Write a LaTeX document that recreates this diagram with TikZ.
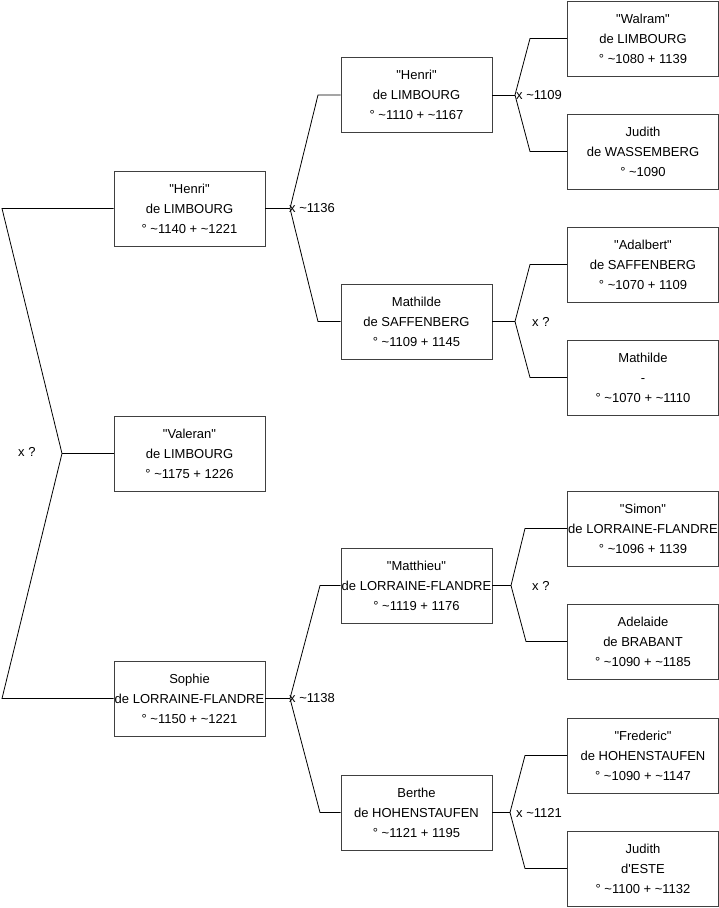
\documentclass[tikz,border=0pt]{standalone}
\usepackage{fontspec}
\setmainfont{Liberation Sans}
\newcommand{\pline}[3]{\makebox[0pt]{#1}\\\makebox[0pt]{#2}\\\makebox[0pt]{#3}}
\newcommand{\qq}[1]{\textquotedbl #1\textquotedbl}
\begin{document}
\begin{tikzpicture}[x=1pt,y=-1pt,
  person/.style={draw=black!75, line width=0.8pt, rectangle, minimum width=151pt, minimum height=75pt,
    inner sep=0pt, align=center, font=\fontsize{13}{20}\selectfont},
  conn/.style={draw=black, line width=0.8pt},
  mlabel/.style={anchor=west, inner sep=0pt, font=\fontsize{13}{15}\selectfont}]
\useasboundingbox (0,0) rectangle (719,908);
% level 1
\node[person] (h1) at (189.5,208.5) {\pline{\qq{Henri}}{de LIMBOURG}{° \textasciitilde 1140 + \textasciitilde 1221}};
\node[person] (v1) at (189.5,453.5) {\pline{\qq{Valeran}}{de LIMBOURG}{° \textasciitilde 1175 + 1226}};
\node[person] (s1) at (189.5,698.5) {\pline{Sophie}{de LORRAINE-FLANDRE}{° \textasciitilde 1150 + \textasciitilde 1221}};
% level 2
\node[person] (h2) at (416.5,95) {\pline{\qq{Henri}}{de LIMBOURG}{° \textasciitilde 1110 + \textasciitilde 1167}};
\node[person] (m2) at (416.5,321.5) {\pline{Mathilde}{de SAFFENBERG}{° \textasciitilde 1109 + 1145}};
\node[person] (t2) at (416.5,585.5) {\pline{\qq{Matthieu}}{de LORRAINE-FLANDRE}{° \textasciitilde 1119 + 1176}};
\node[person] (b2) at (416.5,812.5) {\pline{Berthe}{de HOHENSTAUFEN}{° \textasciitilde 1121 + 1195}};
% level 3
\node[person] (w3) at (643,38.5) {\pline{\qq{Walram}}{de LIMBOURG}{° \textasciitilde 1080 + 1139}};
\node[person] (j3) at (643,151.5) {\pline{Judith}{de WASSEMBERG}{° \textasciitilde 1090}};
\node[person] (a3) at (643,264.5) {\pline{\qq{Adalbert}}{de SAFFENBERG}{° \textasciitilde 1070 + 1109}};
\node[person] (n3) at (643,377.5) {\pline{Mathilde}{-}{° \textasciitilde 1070 + \textasciitilde 1110}};
\node[person] (si3) at (643,528.5) {\pline{\qq{Simon}}{de LORRAINE-FLANDRE}{° \textasciitilde 1096 + 1139}};
\node[person] (ad3) at (643,641.5) {\pline{Adelaide}{de BRABANT}{° \textasciitilde 1090 + \textasciitilde 1185}};
\node[person] (f3) at (643,755.5) {\pline{\qq{Frederic}}{de HOHENSTAUFEN}{° \textasciitilde 1090 + \textasciitilde 1147}};
\node[person] (e3) at (643,868.5) {\pline{Judith}{d\textquotesingle ESTE}{° \textasciitilde 1100 + \textasciitilde 1132}};
% junction coordinates
\coordinate (r) at (62,453.5);
\coordinate (rt) at (2,208.5);
\coordinate (rb) at (2,698.5);
\coordinate (j1) at (290,208.5);
\coordinate (j1t) at (318,95);
\coordinate (j1b) at (318,321.5);
\coordinate (j2) at (290,698.5);
\coordinate (j2t) at (320,585.5);
\coordinate (j2b) at (320,812.5);
\coordinate (k1) at (515,95);
\coordinate (k1t) at (530,38.5);
\coordinate (k1b) at (530,151.5);
\coordinate (k2) at (515,321.5);
\coordinate (k2t) at (530,264.5);
\coordinate (k2b) at (530,377.5);
\coordinate (k3) at (511,585.5);
\coordinate (k3t) at (525,528.5);
\coordinate (k3b) at (526,641.5);
\coordinate (k4) at (510,812.5);
\coordinate (k4t) at (525,755.5);
\coordinate (k4b) at (525,868.5);
% connectors
\draw[conn] (h1.west) -- (rt) -- (r) -- (rb) -- (s1.west);
\draw[conn] (r) -- (v1.west);
\draw[conn] (h1.east) -- (j1);
\draw[conn] (j1) -- (j1t) -- (h2.west);
\draw[conn] (j1) -- (j1b) -- (m2.west);
\draw[conn] (s1.east) -- (j2);
\draw[conn] (j2) -- (j2t) -- (t2.west);
\draw[conn] (j2) -- (j2b) -- (b2.west);
\draw[conn] (h2.east) -- (k1);
\draw[conn] (k1) -- (k1t) -- (w3.west);
\draw[conn] (k1) -- (k1b) -- (j3.west);
\draw[conn] (m2.east) -- (k2);
\draw[conn] (k2) -- (k2t) -- (a3.west);
\draw[conn] (k2) -- (k2b) -- (n3.west);
\draw[conn] (t2.east) -- (k3);
\draw[conn] (k3) -- (k3t) -- (si3.west);
\draw[conn] (k3) -- (k3b) -- (ad3.west);
\draw[conn] (b2.east) -- (k4);
\draw[conn] (k4) -- (k4t) -- (f3.west);
\draw[conn] (k4) -- (k4b) -- (e3.west);
% marriage labels
\node[mlabel] (l0) at (18,452) {x ?};
\node[mlabel] (l1) at (289,208.5) {x \textasciitilde 1136};
\node[mlabel] (l2) at (289,698.5) {x \textasciitilde 1138};
\node[mlabel] (l3) at (516,95) {x \textasciitilde 1109};
\node[mlabel] (l4) at (532,321.5) {x ?};
\node[mlabel] (l5) at (532,585.5) {x ?};
\node[mlabel] (l6) at (516,812.5) {x \textasciitilde 1121};
\end{tikzpicture}
\end{document}
